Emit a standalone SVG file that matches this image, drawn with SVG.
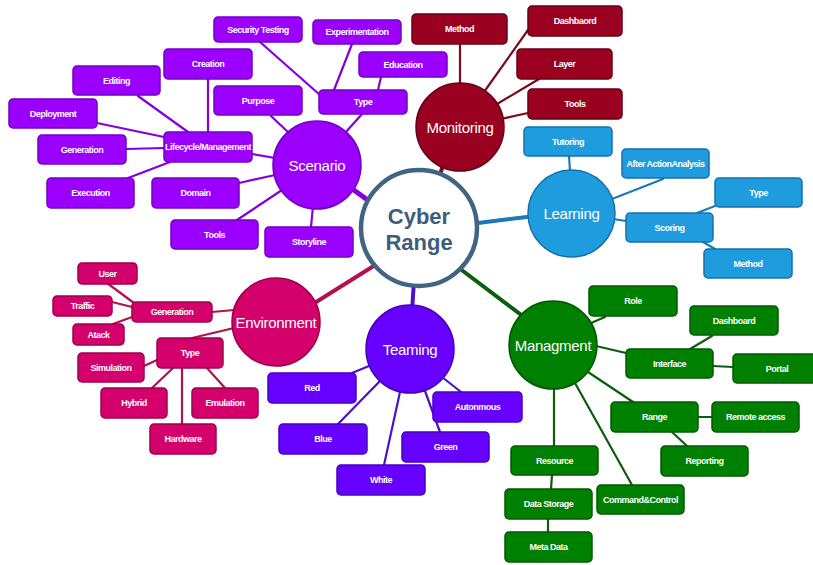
<svg xmlns="http://www.w3.org/2000/svg" width="813" height="565" viewBox="0 0 813 565">
<style>
.b{stroke-width:1.5}
.t{font-family:"Liberation Sans",Arial,sans-serif;font-size:9px;font-weight:bold;fill:#fff;text-anchor:middle;letter-spacing:-0.5px}
.c{font-family:"Liberation Sans",Arial,sans-serif;font-size:15px;fill:#fff;text-anchor:middle;letter-spacing:-0.3px}
.sc rect,.sc circle{fill:#9b00ff;stroke:#7200c2}
.mo rect,.mo circle{fill:#9a0020;stroke:#680016}
.le rect,.le circle{fill:#1f9cdd;stroke:#1670ab}
.en rect,.en circle{fill:#d4006b;stroke:#9c004e}
.te rect,.te circle{fill:#6600ff;stroke:#4800c0}
.ma rect,.ma circle{fill:#008000;stroke:#005800}
rect,circle{stroke-width:1.5}
.l{fill:none;stroke-width:2.2;stroke-linecap:round}
.lsc{stroke:#8400dc}.lmo{stroke:#7c0a1c}.lle{stroke:#1a7ab9}.len{stroke:#b0124f}.lte{stroke:#4a12cf}.lma{stroke:#0b5e0b}
</style>
<rect width="813" height="565" fill="#fff"/>
<g id="connectors">
<line class="l lsc" x1="340" y1="180" x2="380" y2="209" style="stroke-width:5"/>
<line class="l lmo" x1="445" y1="160" x2="438" y2="180" style="stroke-width:4"/>
<line class="l lle" x1="470" y1="224" x2="535" y2="216" style="stroke-width:4"/>
<line class="l len" x1="305" y1="309" x2="380" y2="262" style="stroke-width:4"/>
<line class="l lte" x1="414" y1="280" x2="412" y2="312" style="stroke-width:4"/>
<line class="l lma" x1="455" y1="265" x2="528" y2="320" style="stroke-width:4"/>
<line class="l lsc" x1="271" y1="116" x2="289" y2="133"/>
<line class="l lsc" x1="362" y1="114" x2="345" y2="133"/>
<line class="l lsc" x1="260" y1="42" x2="320" y2="95"/>
<line class="l lsc" x1="352" y1="44" x2="334" y2="90"/>
<line class="l lsc" x1="381" y1="77" x2="378" y2="90"/>
<line class="l lsc" x1="208" y1="79" x2="208" y2="132"/>
<line class="l lsc" x1="138" y1="96" x2="188" y2="132"/>
<line class="l lsc" x1="97" y1="123" x2="164" y2="137"/>
<line class="l lsc" x1="126" y1="149" x2="164" y2="148"/>
<line class="l lsc" x1="128" y1="178" x2="170" y2="162"/>
<line class="l lsc" x1="252" y1="154" x2="275" y2="158"/>
<line class="l lsc" x1="239" y1="183" x2="275" y2="175"/>
<line class="l lsc" x1="237" y1="220" x2="282" y2="190"/>
<line class="l lsc" x1="311" y1="227" x2="313" y2="206"/>
<line class="l lmo" x1="460" y1="44" x2="460" y2="85"/>
<line class="l lmo" x1="528" y1="30" x2="484" y2="92"/>
<line class="l lmo" x1="539" y1="79" x2="497" y2="104"/>
<line class="l lmo" x1="528" y1="113" x2="501" y2="119"/>
<line class="l lle" x1="569" y1="156" x2="570" y2="171"/>
<line class="l lle" x1="663" y1="179" x2="612" y2="199"/>
<line class="l lle" x1="626" y1="221" x2="613" y2="219"/>
<line class="l lle" x1="715" y1="206" x2="697" y2="213"/>
<line class="l lle" x1="703" y1="242" x2="715" y2="249"/>
<line class="l len" x1="107" y1="283" x2="134" y2="303"/>
<line class="l len" x1="112" y1="302" x2="132" y2="307"/>
<line class="l len" x1="113" y1="324" x2="132" y2="317"/>
<line class="l len" x1="212" y1="312" x2="234" y2="310"/>
<line class="l len" x1="192" y1="338" x2="234" y2="328"/>
<line class="l len" x1="144" y1="366" x2="157" y2="360"/>
<line class="l len" x1="152" y1="388" x2="173" y2="368"/>
<line class="l len" x1="225" y1="388" x2="207" y2="368"/>
<line class="l len" x1="182" y1="368" x2="182" y2="424"/>
<line class="l lte" x1="352" y1="373" x2="369" y2="366"/>
<line class="l lte" x1="338" y1="424" x2="380" y2="381"/>
<line class="l lte" x1="384" y1="465" x2="400" y2="392"/>
<line class="l lte" x1="461" y1="392" x2="442" y2="377"/>
<line class="l lte" x1="440" y1="432" x2="425" y2="391"/>
<line class="l lma" x1="605" y1="317" x2="591" y2="323"/>
<line class="l lma" x1="626" y1="353" x2="596" y2="346"/>
<line class="l lma" x1="712" y1="336" x2="690" y2="349"/>
<line class="l lma" x1="713" y1="366" x2="733" y2="367"/>
<line class="l lma" x1="633" y1="402" x2="588" y2="372"/>
<line class="l lma" x1="698" y1="417" x2="712" y2="417"/>
<line class="l lma" x1="687" y1="446" x2="672" y2="432"/>
<line class="l lma" x1="554" y1="388" x2="554" y2="446"/>
<line class="l lma" x1="632" y1="485" x2="575" y2="383"/>
<line class="l lma" x1="551" y1="489" x2="552" y2="475"/>
<line class="l lma" x1="548" y1="519" x2="548" y2="532"/>
</g>
<g id="center">
<circle cx="419" cy="228" r="58" style="fill:#fff;stroke:#3f6583;stroke-width:4.5"/>
<text x="419" y="224" style="font-family:'Liberation Sans',Arial,sans-serif;font-size:22px;font-weight:bold;fill:#3c5e7c;text-anchor:middle">Cyber</text>
<text x="419" y="250" style="font-family:'Liberation Sans',Arial,sans-serif;font-size:22px;font-weight:bold;fill:#3c5e7c;text-anchor:middle">Range</text>
</g>
<g id="scenario" class="sc">
<circle cx="317" cy="165" r="44"/><text class="c" x="317" y="170.5">Scenario</text>
<g id="sc-security"><rect x="214" y="17" width="88" height="25" rx="4"/><text class="t" x="258" y="32.7">Security Testing</text></g>
<g id="sc-experimentation"><rect x="313" y="20" width="88" height="24" rx="4"/><text class="t" x="357" y="35.2">Experimentation</text></g>
<g id="sc-education"><rect x="359" y="52" width="88" height="25" rx="4"/><text class="t" x="403" y="67.7">Education</text></g>
<g id="sc-creation"><rect x="164" y="49" width="88" height="30" rx="4"/><text class="t" x="208" y="67.2">Creation</text></g>
<g id="sc-editing"><rect x="73" y="66" width="87" height="29" rx="4"/><text class="t" x="116.5" y="83.7">Editing</text></g>
<g id="sc-purpose"><rect x="214" y="86" width="88" height="29" rx="4"/><text class="t" x="258" y="103.7">Purpose</text></g>
<g id="sc-type"><rect x="319" y="90" width="88" height="24" rx="4"/><text class="t" x="363" y="105.2">Type</text></g>
<g id="sc-deployment"><rect x="9" y="99" width="88" height="29" rx="4"/><text class="t" x="53" y="116.7">Deployment</text></g>
<g id="sc-lifecycle"><rect x="164" y="132" width="88" height="30" rx="4"/><text class="t" x="208" y="150.2">Lifecycle/Management</text></g>
<g id="sc-generation"><rect x="38" y="135" width="88" height="29" rx="4"/><text class="t" x="82" y="152.7">Generation</text></g>
<g id="sc-execution"><rect x="47" y="178" width="87" height="30" rx="4"/><text class="t" x="90.5" y="196.2">Execution</text></g>
<g id="sc-domain"><rect x="152" y="178" width="87" height="30" rx="4"/><text class="t" x="195.5" y="196.2">Domain</text></g>
<g id="sc-tools"><rect x="171" y="220" width="87" height="29" rx="4"/><text class="t" x="214.5" y="237.7">Tools</text></g>
<g id="sc-storyline"><rect x="265" y="227" width="88" height="30" rx="4"/><text class="t" x="309" y="245.2">Storyline</text></g>
</g>
<g id="monitoring" class="mo">
<circle cx="460" cy="127" r="44"/><text class="c" x="460" y="132.5">Monitoring</text>
<g id="mo-method"><rect x="412" y="14" width="95" height="30" rx="4"/><text class="t" x="459.5" y="32.2">Method</text></g>
<g id="mo-dashbaord"><rect x="528" y="6" width="94" height="30" rx="4"/><text class="t" x="575" y="24.2">Dashbaord</text></g>
<g id="mo-layer"><rect x="517" y="49" width="95" height="30" rx="4"/><text class="t" x="564.5" y="67.2">Layer</text></g>
<g id="mo-tools"><rect x="528" y="89" width="94" height="30" rx="4"/><text class="t" x="575" y="107.2">Tools</text></g>
</g>
<g id="learning" class="le">
<circle cx="571.5" cy="213.5" r="43.5"/><text class="c" x="571.5" y="219">Learning</text>
<g id="le-tutoring"><rect x="524" y="127" width="88" height="29" rx="4"/><text class="t" x="568" y="144.7">Tutoring</text></g>
<g id="le-aar"><rect x="622" y="149" width="87" height="29" rx="4"/><text class="t" x="665.5" y="166.7">After ActionAnalysis</text></g>
<g id="le-type"><rect x="715" y="178" width="87" height="29" rx="4"/><text class="t" x="758.5" y="195.7">Type</text></g>
<g id="le-scoring"><rect x="626" y="213" width="87" height="29" rx="4"/><text class="t" x="669.5" y="230.7">Scoring</text></g>
<g id="le-method"><rect x="704" y="249" width="88" height="29" rx="4"/><text class="t" x="748" y="266.7">Method</text></g>
</g>
<g id="environment" class="en">
<circle cx="276" cy="322" r="44"/><text class="c" x="276" y="327.5">Environment</text>
<g id="en-user"><rect x="78" y="263" width="59" height="21" rx="4"/><text class="t" x="107.5" y="276.7">User</text></g>
<g id="en-traffic"><rect x="53" y="296" width="59" height="20" rx="4"/><text class="t" x="82.5" y="309.2">Traffic</text></g>
<g id="en-generation"><rect x="132" y="302" width="80" height="20" rx="4"/><text class="t" x="172" y="315.2">Generation</text></g>
<g id="en-atack"><rect x="73" y="324" width="51" height="21" rx="4"/><text class="t" x="98.5" y="337.7">Atack</text></g>
<g id="en-type"><rect x="157" y="338" width="66" height="30" rx="4"/><text class="t" x="190" y="356.2">Type</text></g>
<g id="en-simulation"><rect x="78" y="353" width="66" height="29" rx="4"/><text class="t" x="111" y="370.7">Simulation</text></g>
<g id="en-hybrid"><rect x="101" y="388" width="66" height="30" rx="4"/><text class="t" x="134" y="406.2">Hybrid</text></g>
<g id="en-emulation"><rect x="192" y="388" width="66" height="30" rx="4"/><text class="t" x="225" y="406.2">Emulation</text></g>
<g id="en-hardware"><rect x="150" y="424" width="66" height="30" rx="4"/><text class="t" x="183" y="442.2">Hardware</text></g>
</g>
<g id="teaming" class="te">
<circle cx="410" cy="349" r="44"/><text class="c" x="410" y="354.5">Teaming</text>
<g id="te-red"><rect x="268" y="373" width="88" height="30" rx="4"/><text class="t" x="312" y="391.2">Red</text></g>
<g id="te-blue"><rect x="279" y="424" width="88" height="30" rx="4"/><text class="t" x="323" y="442.2">Blue</text></g>
<g id="te-white"><rect x="337" y="465" width="88" height="30" rx="4"/><text class="t" x="381" y="483.2">White</text></g>
<g id="te-autonmous"><rect x="433" y="392" width="89" height="30" rx="4"/><text class="t" x="477.5" y="410.2">Autonmous</text></g>
<g id="te-green"><rect x="402" y="432" width="87" height="30" rx="4"/><text class="t" x="445.5" y="450.2">Green</text></g>
</g>
<g id="managment" class="ma">
<circle cx="553" cy="345" r="44"/><text class="c" x="553" y="350.5">Managment</text>
<g id="ma-role"><rect x="589" y="286" width="88" height="30" rx="4"/><text class="t" x="633" y="304.2">Role</text></g>
<g id="ma-dashboard"><rect x="690" y="306" width="88" height="29" rx="4"/><text class="t" x="734" y="323.7">Dashboard</text></g>
<g id="ma-interface"><rect x="626" y="349" width="87" height="29" rx="4"/><text class="t" x="669.5" y="366.7">Interface</text></g>
<g id="ma-portal"><rect x="733" y="354" width="86" height="29" rx="4"/><text class="t" x="777" y="371.7">Portal</text></g>
<g id="ma-range"><rect x="611" y="402" width="87" height="30" rx="4"/><text class="t" x="654.5" y="420.2">Range</text></g>
<g id="ma-remote"><rect x="712" y="402" width="87" height="30" rx="4"/><text class="t" x="755.5" y="420.2">Remote access</text></g>
<g id="ma-reporting"><rect x="661" y="446" width="87" height="30" rx="4"/><text class="t" x="704.5" y="464.2">Reporting</text></g>
<g id="ma-resource"><rect x="511" y="446" width="87" height="29" rx="4"/><text class="t" x="554.5" y="463.7">Resource</text></g>
<g id="ma-cc"><rect x="597" y="485" width="87" height="29" rx="4"/><text class="t" x="640.5" y="502.7">Command&amp;Control</text></g>
<g id="ma-datastorage"><rect x="505" y="489" width="87" height="30" rx="4"/><text class="t" x="548.5" y="507.2">Data Storage</text></g>
<g id="ma-metadata"><rect x="505" y="532" width="87" height="30" rx="4"/><text class="t" x="548.5" y="550.2">Meta Data</text></g>
</g>
</svg>
